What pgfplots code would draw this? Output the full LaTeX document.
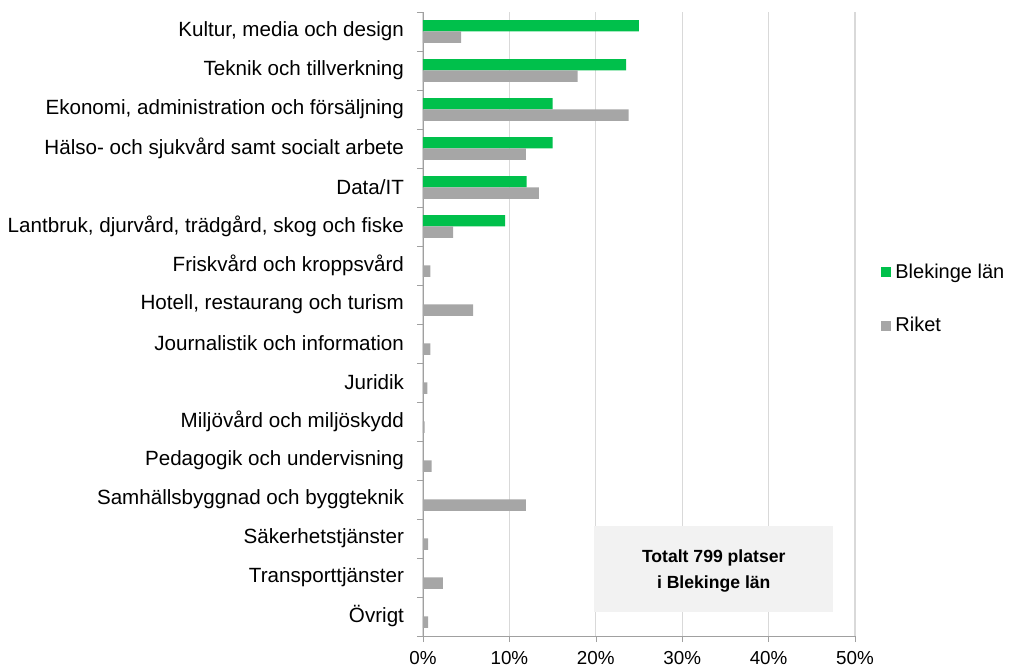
\documentclass[border=0pt]{standalone}
\usepackage{fontspec}
\setmainfont{Liberation Sans}
\usepackage{pgfplots}
\pgfplotsset{compat=1.18}

\definecolor{blek}{RGB}{0,192,75}
\definecolor{riket}{RGB}{166,166,166}
\definecolor{gridc}{RGB}{217,217,217}
\definecolor{axisc}{RGB}{160,160,160}
\definecolor{boxc}{RGB}{242,242,242}

\begin{document}
\begin{tikzpicture}[x=1pt,y=1pt]
\useasboundingbox (0,0) rectangle (506,334.5);
\begin{axis}[
    at={(211.5pt,16.5pt)}, anchor=south west,
    scale only axis, width=216pt, height=312pt,
    xmin=0, xmax=50, ymin=-0.5, ymax=15.5,
    axis x line*=bottom, axis y line*=left,
    axis line style={axisc, -},
    tick style={axisc},
    tick align=outside,
    major tick length=0pt,
    minor tick length=3pt,
    xtick={0,10,...,50},
    minor xtick={0,10,...,50},
    xticklabels={0\%,10\%,20\%,30\%,40\%,50\%},
    xticklabel style={font=\fontsize{9.4}{11}\selectfont, yshift=-4pt},
    xmajorgrids, grid style={gridc, line width=0.6pt},
    ytick={0,1,...,15},
    minor ytick={-0.5,0.5,...,15.5},
    yticklabels={Övrigt,Transporttjänster,Säkerhetstjänster,
        Samhällsbyggnad och byggteknik,Pedagogik och undervisning,
        Miljövård och miljöskydd,Juridik,Journalistik och information,
        {Hotell, restaurang och turism},Friskvård och kroppsvård,
        {Lantbruk, djurvård, trädgård, skog och fiske},Data/IT,
        Hälso- och sjukvård samt socialt arbete,
        {Ekonomi, administration och försäljning},
        Teknik och tillverkning,{Kultur, media och design}},
    yticklabel style={font=\fontsize{10.3}{12}\selectfont, xshift=-6pt},
    xbar, bar width=0.29,
    legend style={draw=none, fill=none, at={(1,0.54)}, anchor=west,
        xshift=13pt, inner sep=0pt, row sep=14pt,
        font=\fontsize{10}{12}\selectfont},
    legend cell align=left,
    legend image code/.code={\fill[#1] (0pt,-2.5pt) rectangle (5pt,2.5pt);},
]
\addplot[fill=blek, draw=none, bar shift=0.145] coordinates {
    (25.0,15) (23.5,14) (15.0,13) (15.0,12) (12.0,11) (9.5,10)
};
\addplot[fill=riket, draw=none, bar shift=-0.145] coordinates {
    (4.4,15) (17.9,14) (23.8,13) (11.9,12) (13.4,11) (3.5,10)
    (0.85,9) (5.8,8) (0.85,7) (0.5,6) (0.2,5) (1.0,4)
    (11.9,3) (0.6,2) (2.3,1) (0.6,0)
};
\legend{Blekinge län,Riket}
\fill[boxc] (axis cs:19.8,0.12) rectangle (axis cs:47.5,2.32);
\node[align=center, font=\bfseries\fontsize{8.8}{13}\selectfont]
    at (axis cs:33.65,1.16) {Totalt 799 platser\\i Blekinge län};
\end{axis}
\end{tikzpicture}
\end{document}
